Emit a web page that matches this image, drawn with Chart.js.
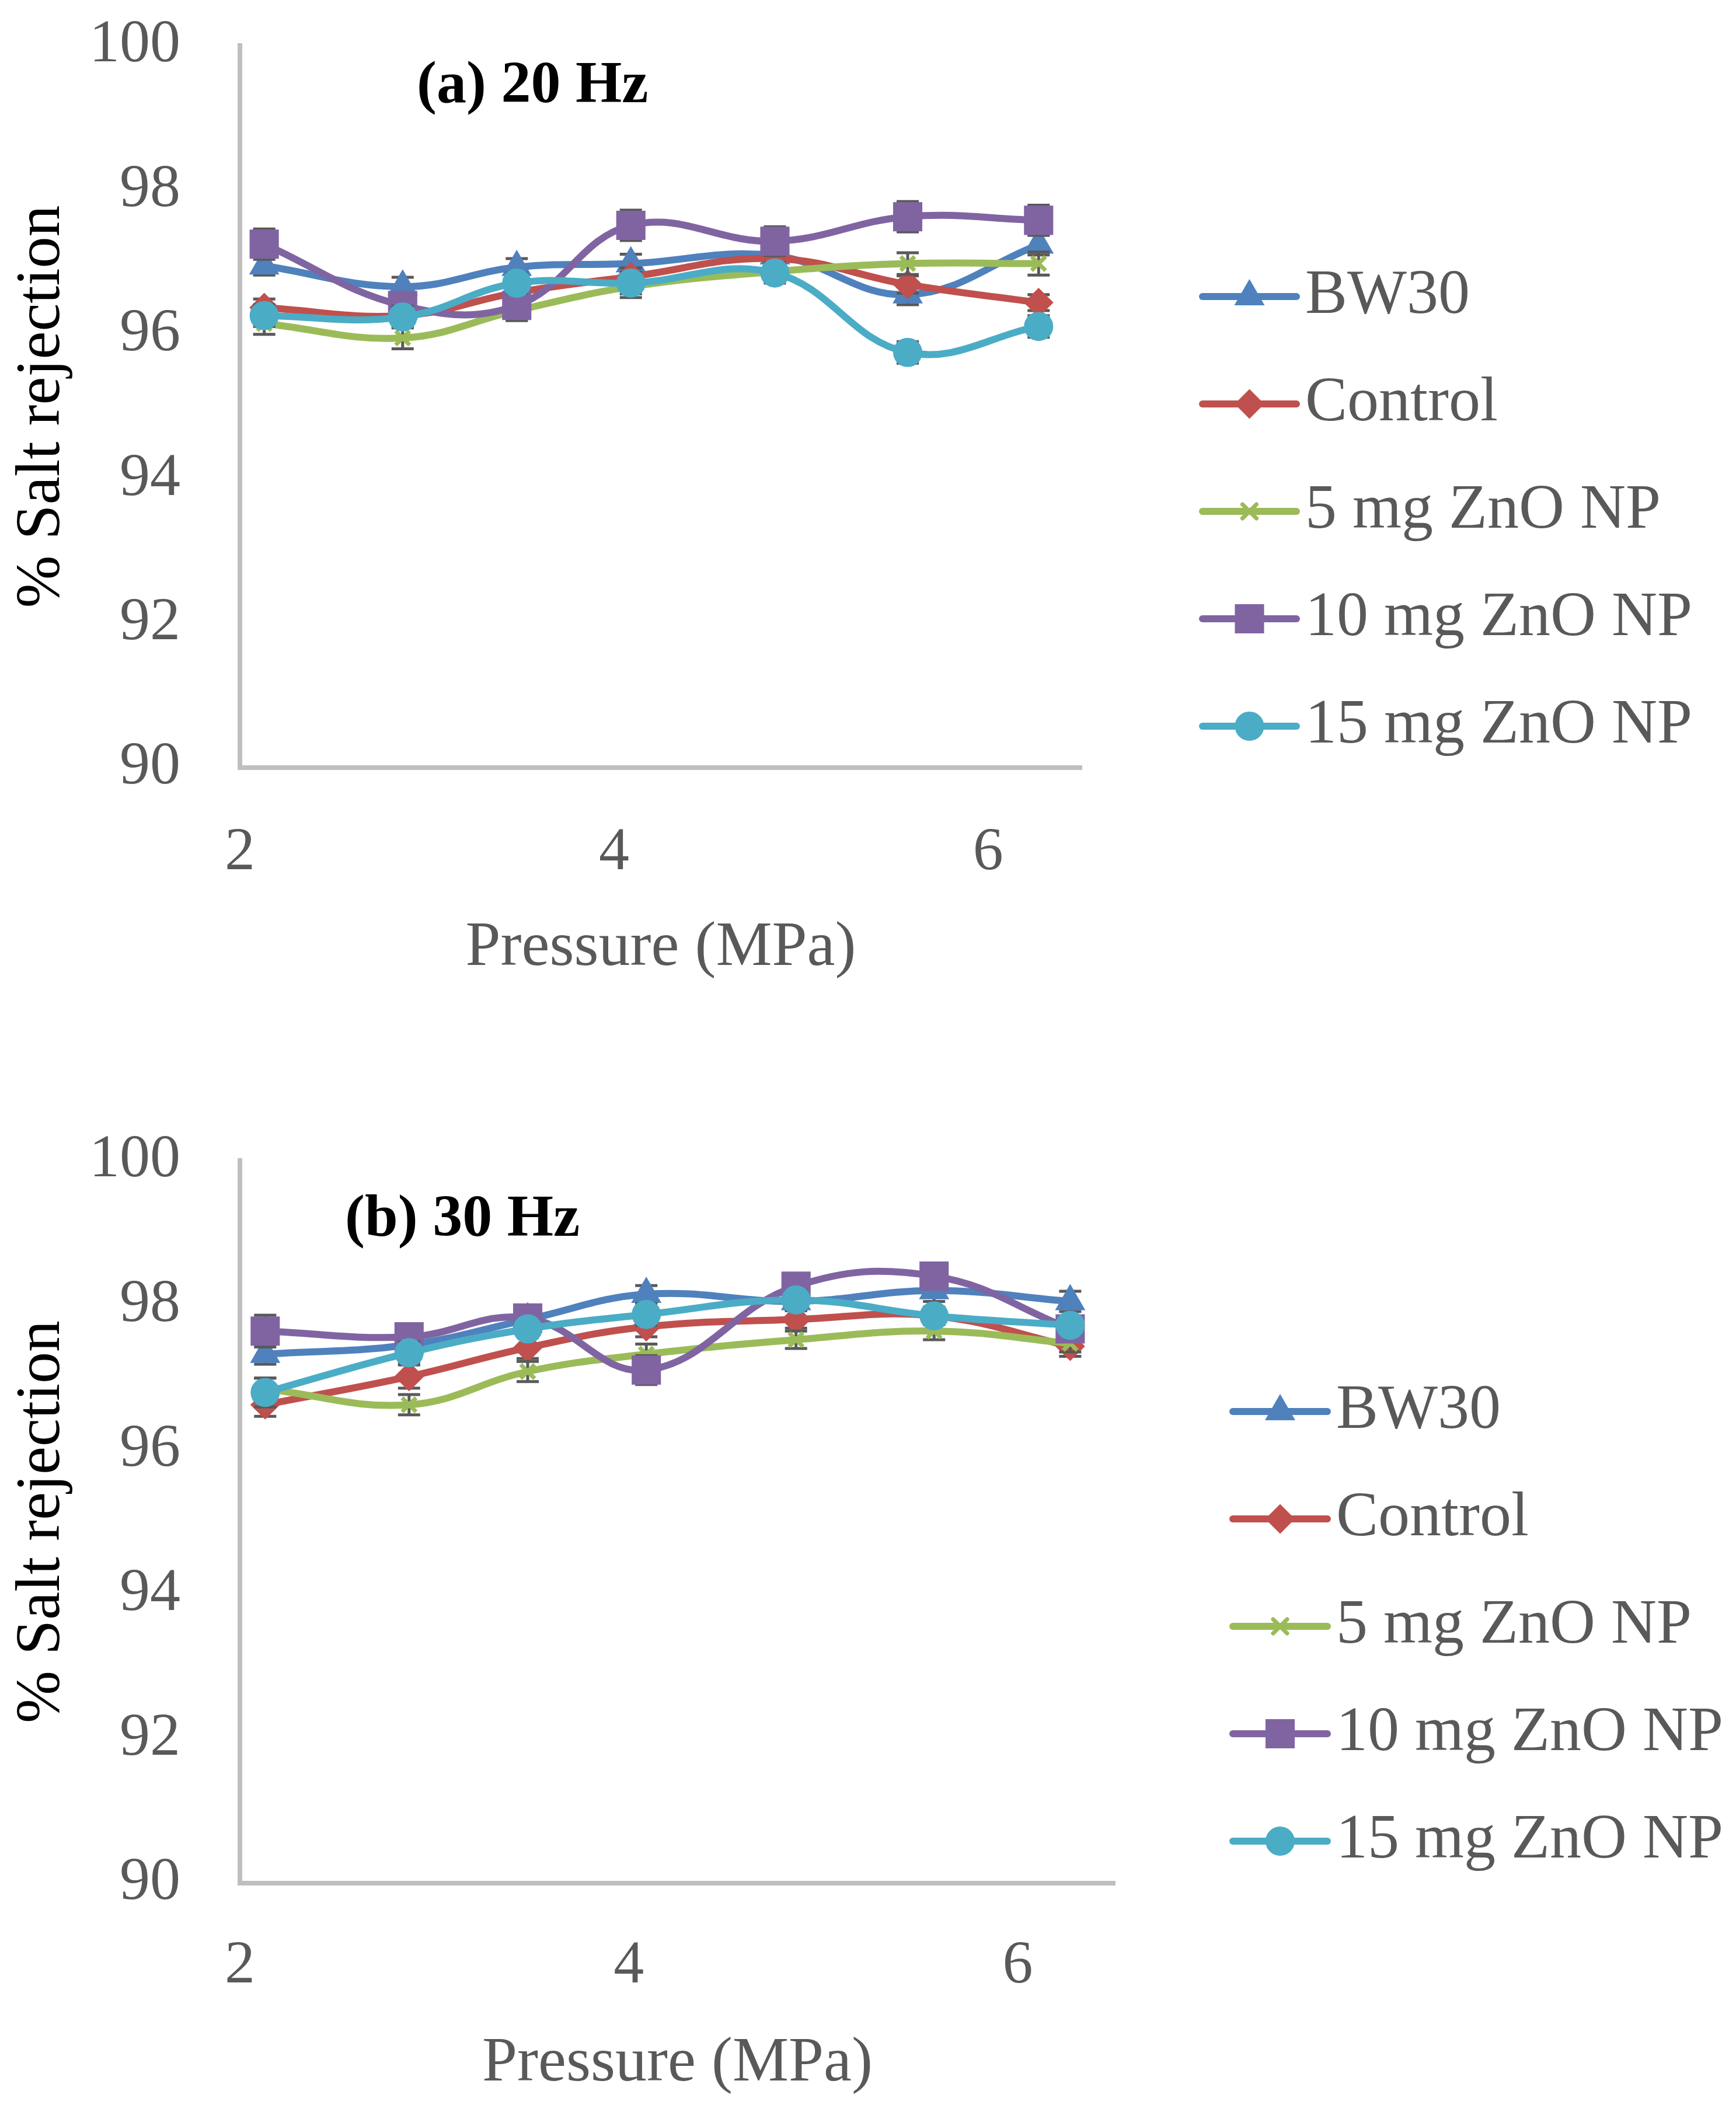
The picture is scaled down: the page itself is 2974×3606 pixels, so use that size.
<!DOCTYPE html>
<html>
<head>
<meta charset="utf-8">
<script src="https://cdn.jsdelivr.net/npm/chart.js@4.4.1/dist/chart.umd.min.js"></script>
<style>
body{margin:0;background:#fff;}
.box{position:absolute;left:0;width:2974px;}
</style>
</head>
<body>
<div class="box" style="top:0;height:1740px"><canvas id="c20"></canvas></div>
<div class="box" style="top:1740px;height:1866px"><canvas id="c30"></canvas></div>
<script>
// pressure in MPa, same for both panels
var pressure = [2.13, 2.87, 3.48, 4.09, 4.86, 5.57, 6.27];
var names = ['BW30', 'Control', '5 mg ZnO NP', '10 mg ZnO NP', '15 mg ZnO NP'];
var xTicks = [2, 4, 6];
var yTicks = [90, 92, 94, 96, 98, 100];

// (a) 20 Hz
var bw30_20    = [96.95, 96.66, 96.93, 96.98, 97.09, 96.55, 97.24];
var control_20 = [96.37, 96.26, 96.58, 96.80, 97.05, 96.69, 96.44];
var zno5_20    = [96.15, 95.95, 96.33, 96.66, 96.87, 96.98, 96.98];
var zno10_20   = [97.25, 96.40, 96.40, 97.51, 97.29, 97.63, 97.58];
var zno15_20   = [96.26, 96.24, 96.71, 96.71, 96.85, 95.75, 96.11];

var bw30_20_err    = [0.13, 0.13, 0.12, 0.13, 0.12, 0.14, 0.14];
var control_20_err = [0.12, 0.12, 0.12, 0.12, 0.10, 0.12, 0.11];
var zno5_20_err    = [0.15, 0.15, 0.14, 0.15, 0.12, 0.15, 0.16];
var zno10_20_err   = [0.21, 0.18, 0.20, 0.21, 0.20, 0.21, 0.21];
var zno15_20_err   = [0.15, 0.15, 0.14, 0.15, 0.14, 0.15, 0.15];

// (b) 30 Hz
var bw30_30    = [97.32, 97.45, 97.80, 98.15, 98.05, 98.20, 98.05];
var control_30 = [96.62, 97.01, 97.41, 97.70, 97.80, 97.85, 97.43];
var zno5_30    = [96.84, 96.62, 97.08, 97.32, 97.52, 97.64, 97.47];
var zno10_30   = [97.64, 97.56, 97.82, 97.10, 98.26, 98.40, 97.67];
var zno15_30   = [96.79, 97.34, 97.67, 97.87, 98.07, 97.85, 97.72];

var bw30_30_err    = [0.14, 0.12, 0.10, 0.12, 0.12, 0.15, 0.14];
var control_30_err = [0.16, 0.16, 0.15, 0.14, 0.12, 0.12, 0.14];
var zno5_30_err    = [0.15, 0.14, 0.14, 0.14, 0.12, 0.12, 0.12];
var zno10_30_err   = [0.22, 0.15, 0.12, 0.20, 0.15, 0.15, 0.15];
var zno15_30_err   = [0.20, 0.15, 0.12, 0.15, 0.12, 0.12, 0.12];

var colors = ['#4F81BD', '#C0504D', '#9BBB59', '#8064A2', '#4BACC6'];
var styles = ['triangle', 'rectRot', 'crossRot', 'rect', 'circle'];
var radii = [28, 24, 17, 34, 24];

Chart.defaults.font.family = '"Liberation Serif", serif';

function makeSets(list, errs) {
	var sets = [];
	for (var i = 0; i < list.length; i++) {
		var pts = [];
		for (var j = 0; j < pressure.length; j++) {
			pts.push({x: pressure[j], y: list[i][j]});
		}
		sets.push({
			label: names[i],
			data: pts,
			errors: errs[i],
			borderColor: colors[i],
			backgroundColor: colors[i],
			pointBackgroundColor: colors[i],
			pointBorderColor: colors[i],
			pointStyle: styles[i],
			pointRadius: radii[i],
			pointBorderWidth: styles[i] == 'crossRot' ? 7 : 2,
			borderWidth: 12,
			tension: 0.4,
			fill: false,
			order: 5 - i
		});
	}
	return sets;
}

// error bars drawn just before each series so its markers sit over the stem
var errorBars = {
	id: 'errorBars',
	beforeDatasetDraw: function(chart, args, opts) {
		var ds = chart.data.datasets[args.index];
		if (!ds.errors) return;
		var ctx = chart.ctx, xs = chart.scales.x, ys = chart.scales.y;
		ctx.save();
		ctx.strokeStyle = opts.color;
		ctx.lineWidth = opts.width;
		ctx.beginPath();
		for (var i = 0; i < ds.data.length; i++) {
			var p = ds.data[i], e = ds.errors[i];
			var x = xs.getPixelForValue(p.x);
			var y1 = ys.getPixelForValue(p.y + e);
			var y2 = ys.getPixelForValue(p.y - e);
			ctx.moveTo(x, y1); ctx.lineTo(x, y2);
			ctx.moveTo(x - opts.cap, y1); ctx.lineTo(x + opts.cap, y1);
			ctx.moveTo(x - opts.cap, y2); ctx.lineTo(x + opts.cap, y2);
		}
		ctx.stroke();
		ctx.restore();
	}
};

var sideLegend = {
	id: 'sideLegend',
	afterDraw: function(chart, args, opts) {
		var ctx = chart.ctx;
		ctx.save();
		chart.data.datasets.forEach(function(ds, i) {
			var y = opts.top + i * opts.gap;
			ctx.strokeStyle = ds.borderColor;
			ctx.lineWidth = ds.borderWidth;
			ctx.lineCap = 'round';
			ctx.beginPath();
			ctx.moveTo(opts.x0, y);
			ctx.lineTo(opts.x1, y);
			ctx.stroke();
			ctx.fillStyle = ds.borderColor;
			ctx.lineWidth = ds.pointBorderWidth;
			Chart.helpers.drawPoint(ctx, {
				pointStyle: ds.pointStyle,
				radius: ds.pointRadius,
				borderWidth: ds.pointBorderWidth,
				rotation: 0
			}, (opts.x0 + opts.x1) / 2, y);
			ctx.fillStyle = '#595959';
			ctx.font = opts.size + 'px "Liberation Serif"';
			ctx.textBaseline = 'middle';
			ctx.textAlign = 'left';
			ctx.fillText(ds.label, opts.textX, y);
		});
		ctx.restore();
	}
};

var panelLabel = {
	id: 'panelLabel',
	afterDraw: function(chart, args, opts) {
		var ctx = chart.ctx;
		ctx.save();
		ctx.fillStyle = '#000';
		ctx.font = 'bold ' + opts.size + 'px "Liberation Serif"';
		ctx.textBaseline = 'middle';
		ctx.fillText(opts.text, opts.x, opts.y);
		ctx.restore();
	}
};

function makeChart(id, sets, p) {
	var ctx = document.getElementById(id);
	return new Chart(ctx, {
		type: 'line',
		data: {datasets: sets},
		plugins: [errorBars, sideLegend, panelLabel],
		options: {
			responsive: true,
			maintainAspectRatio: false,
			devicePixelRatio: 1,
			animation: false,
			layout: {padding: {top: p.top, right: p.right, left: 0, bottom: 0}},
			plugins: {
				legend: {display: false},
				tooltip: {enabled: false},
				errorBars: {color: '#595959', width: 5, cap: 19},
				sideLegend: p.legend,
				panelLabel: p.label
			},
			scales: {
				x: {
					type: 'linear',
					min: 2, max: 6.5,
					afterFit: function(s) { s.height = p.xHeight; s.paddingLeft = 0; s.paddingRight = 0; },
					afterBuildTicks: function(s) { s.ticks = xTicks.map(function(v) { return {value: v}; }); },
					ticks: {color: '#595959', font: {size: 104}, padding: p.xTickPad},
					grid: {display: false, drawTicks: false},
					border: {color: '#BFBFBF', width: 8},
					title: {display: true, text: 'Pressure (MPa)', color: '#595959',
						font: {size: 108}, padding: {top: 0, bottom: p.xTitlePad}}
				},
				y: {
					min: 90, max: 100,
					afterFit: function(s) { s.width = 411; s.paddingTop = 0; s.paddingBottom = 0; },
					afterBuildTicks: function(s) { s.ticks = yTicks.map(function(v) { return {value: v}; }); },
					ticks: {color: '#595959', font: {size: 104}, padding: 102},
					grid: {display: false, drawTicks: false},
					border: {color: '#BFBFBF', width: 8},
					title: {display: true, text: '% Salt rejection', color: '#000',
						font: {size: 108}, padding: {top: 8, bottom: 0}}
				}
			}
		}
	});
}

makeChart('c20', makeSets([bw30_20, control_20, zno5_20, zno10_20, zno15_20],
	[bw30_20_err, control_20_err, zno5_20_err, zno10_20_err, zno15_20_err]), {
	top: 78, right: 1121, xHeight: 425, xTickPad: 84, xTitlePad: 51,
	legend: {x0: 2060, x1: 2221, textX: 2236, top: 508, gap: 184, size: 108},
	label: {text: '(a) 20 Hz', x: 714, y: 149, size: 102}
});

makeChart('c30', makeSets([bw30_30, control_30, zno5_30, zno10_30, zno15_30],
	[bw30_30_err, control_30_err, zno5_30_err, zno10_30_err, zno15_30_err]), {
	top: 248, right: 1064, xHeight: 380, xTickPad: 80, xTitlePad: 6,
	legend: {x0: 2112, x1: 2274, textX: 2289, top: 678, gap: 184, size: 108},
	label: {text: '(b) 30 Hz', x: 591, y: 351, size: 102}
});
</script>
</body>
</html>
